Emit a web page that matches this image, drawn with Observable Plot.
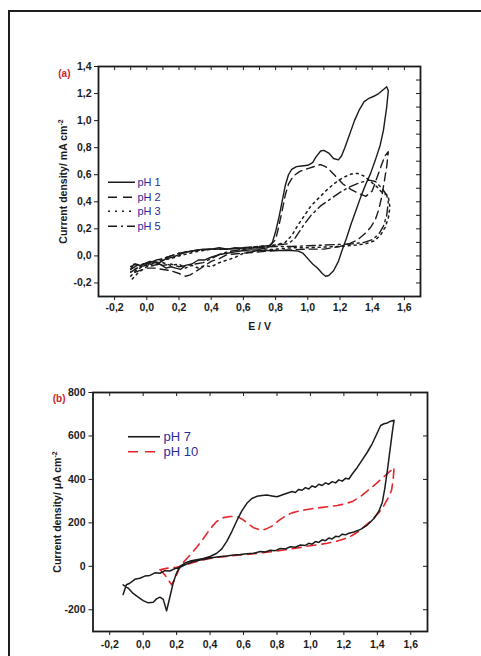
<!DOCTYPE html>
<html><head><meta charset="utf-8">
<script src="https://cdn.jsdelivr.net/npm/d3@7"></script>
<script src="https://cdn.jsdelivr.net/npm/@observablehq/plot@0.6"></script>
<style>
html,body{margin:0;padding:0;background:#fff;}
#wrap{position:relative;width:481px;height:656px;overflow:hidden;background:#fff;}
#frame{position:absolute;left:8px;top:10px;width:520px;height:720px;border-left:2px solid #1e1e1e;border-top:2px solid #1e1e1e;pointer-events:none;z-index:5;}
.pl{position:absolute;left:0;}
.leg{position:absolute;font-family:"Liberation Sans",Arial,sans-serif;color:#2c2c9c;white-space:nowrap;}
.leg .row{position:absolute;left:0;display:flex;align-items:center;}
.leg svg{display:block;overflow:visible}
</style></head><body>
<div id="wrap"><div id="frame"></div>
<div id="pa" class="pl" style="top:0"></div>
<div id="pb" class="pl" style="top:345px"></div>
<div id="legA" class="leg"></div><div id="legB" class="leg"></div></div>
<script>
// ---------- Panel (a) data: [E (V), j (mA cm-2)] ----------
const ph1 = [[-0.10,-0.08],[-0.07,-0.06],[-0.04,-0.07],[0.00,-0.05],[0.04,-0.04],[0.08,-0.05],[0.12,-0.02],[0.16,-0.01],[0.20,0.01],[0.25,0.03],[0.30,0.04],[0.35,0.05],[0.40,0.05],[0.45,0.06],[0.50,0.05],[0.55,0.06],[0.60,0.05],[0.65,0.05],[0.70,0.05],[0.75,0.06],[0.78,0.10],[0.80,0.18],[0.82,0.28],[0.84,0.40],[0.86,0.52],[0.88,0.60],[0.90,0.64],[0.93,0.66],[0.96,0.665],[1.00,0.67],[1.03,0.69],[1.05,0.73],[1.08,0.775],[1.10,0.78],[1.13,0.76],[1.16,0.72],[1.19,0.71],[1.21,0.74],[1.23,0.80],[1.26,0.90],[1.29,1.00],[1.32,1.08],[1.35,1.14],[1.38,1.165],[1.41,1.18],[1.44,1.20],[1.47,1.23],[1.49,1.25],[1.50,1.22],
[1.49,1.10],[1.47,0.93],[1.45,0.82],[1.42,0.71],[1.39,0.61],[1.36,0.53],[1.33,0.44],[1.30,0.34],[1.27,0.24],[1.24,0.13],[1.21,0.03],[1.19,-0.04],[1.16,-0.11],[1.13,-0.145],[1.11,-0.15],[1.09,-0.13],[1.06,-0.09],[1.03,-0.06],[1.00,-0.02],[0.97,0.02],[0.94,0.035],[0.90,0.04],[0.85,0.04],[0.80,0.04],[0.75,0.04],[0.70,0.04],[0.65,0.035],[0.60,0.04],[0.55,0.03],[0.50,0.02],[0.45,0.01],[0.40,-0.01],[0.36,-0.03],[0.32,-0.03],[0.28,-0.06],[0.24,-0.07],[0.21,-0.10],[0.18,-0.09],[0.15,-0.08],[0.12,-0.09],[0.08,-0.06],[0.04,-0.07],[0.00,-0.05],[-0.04,-0.07],[-0.08,-0.06],[-0.10,-0.10]];
const ph2 = [[-0.10,-0.12],[-0.06,-0.09],[-0.02,-0.06],[0.02,-0.05],[0.06,-0.03],[0.10,-0.02],[0.15,0.00],[0.20,0.02],[0.30,0.04],[0.40,0.05],[0.50,0.05],[0.60,0.06],[0.70,0.06],[0.76,0.07],[0.80,0.12],[0.82,0.22],[0.84,0.33],[0.86,0.45],[0.88,0.53],[0.91,0.59],[0.95,0.625],[1.00,0.645],[1.05,0.665],[1.08,0.675],[1.11,0.66],[1.14,0.63],[1.18,0.58],[1.22,0.53],[1.27,0.49],[1.32,0.46],[1.36,0.44],[1.40,0.48],[1.43,0.58],[1.46,0.68],[1.48,0.74],[1.50,0.77],
[1.49,0.66],[1.475,0.55],[1.46,0.44],[1.44,0.34],[1.42,0.27],[1.39,0.21],[1.35,0.16],[1.31,0.12],[1.26,0.09],[1.20,0.07],[1.10,0.05],[1.00,0.05],[0.90,0.045],[0.80,0.04],[0.70,0.03],[0.60,0.02],[0.50,0.01],[0.45,-0.02],[0.40,-0.04],[0.35,-0.08],[0.31,-0.11],[0.27,-0.14],[0.24,-0.15],[0.20,-0.13],[0.15,-0.11],[0.10,-0.10],[0.05,-0.09],[0.00,-0.09],[-0.05,-0.11],[-0.09,-0.13]];
const ph3 = [[-0.10,-0.15],[-0.07,-0.11],[-0.03,-0.08],[0.02,-0.05],[0.06,-0.06],[0.10,-0.03],[0.15,-0.02],[0.20,0.00],[0.30,0.03],[0.40,0.05],[0.50,0.05],[0.60,0.06],[0.70,0.07],[0.80,0.08],[0.86,0.10],[0.90,0.15],[0.94,0.23],[0.98,0.30],[1.02,0.37],[1.07,0.43],[1.12,0.49],[1.17,0.54],[1.22,0.58],[1.27,0.605],[1.31,0.61],[1.35,0.59],[1.39,0.55],[1.43,0.51],[1.46,0.47],[1.49,0.45],[1.50,0.44],
[1.51,0.36],[1.50,0.28],[1.48,0.21],[1.45,0.15],[1.41,0.11],[1.36,0.09],[1.30,0.08],[1.20,0.07],[1.10,0.065],[1.00,0.06],[0.90,0.06],[0.80,0.05],[0.70,0.04],[0.60,0.02],[0.55,-0.01],[0.50,-0.03],[0.45,-0.05],[0.40,-0.08],[0.36,-0.07],[0.32,-0.09],[0.28,-0.07],[0.24,-0.09],[0.20,-0.06],[0.15,-0.07],[0.10,-0.05],[0.05,-0.07],[0.00,-0.08],[-0.05,-0.12],[-0.09,-0.17]];
const ph5 = [[-0.10,-0.10],[-0.06,-0.07],[-0.02,-0.06],[0.02,-0.04],[0.06,-0.05],[0.10,-0.02],[0.15,0.00],[0.20,0.02],[0.30,0.04],[0.40,0.05],[0.50,0.05],[0.60,0.06],[0.70,0.07],[0.80,0.08],[0.88,0.09],[0.92,0.13],[0.97,0.22],[1.02,0.30],[1.08,0.37],[1.14,0.42],[1.20,0.47],[1.26,0.51],[1.32,0.54],[1.38,0.56],[1.42,0.55],[1.46,0.50],[1.49,0.45],[1.50,0.40],
[1.49,0.30],[1.47,0.22],[1.44,0.16],[1.40,0.12],[1.35,0.10],[1.28,0.09],[1.20,0.085],[1.10,0.08],[1.00,0.075],[0.90,0.07],[0.80,0.07],[0.70,0.065],[0.60,0.05],[0.50,0.03],[0.45,0.01],[0.40,-0.02],[0.35,-0.05],[0.30,-0.06],[0.25,-0.07],[0.20,-0.08],[0.15,-0.06],[0.10,-0.07],[0.05,-0.05],[0.00,-0.07],[-0.05,-0.08],[-0.10,-0.12]];

// ---------- Panel (b) data: [E (V), j (µA cm-2)] ----------
const ph7 = [[-0.12,-85],[-0.09,-100],[-0.06,-125],[-0.03,-142],[0.00,-158],[0.03,-168],[0.06,-165],[0.08,-150],[0.10,-142],[0.12,-152],[0.14,-205],[0.16,-140],[0.18,-75],[0.20,-30],[0.22,0],[0.25,15],[0.28,24],[0.32,30],[0.36,36],[0.40,45],[0.44,60],[0.47,80],[0.50,115],[0.53,160],[0.56,210],[0.59,255],[0.62,290],[0.65,312],[0.68,322],[0.71,326],[0.74,328],[0.77,324],[0.80,320],[0.83,328],[0.86,336],[0.89,344],[0.91,340],[0.93,354],[0.95,350],[0.97,362],[0.99,356],[1.01,370],[1.03,364],[1.05,378],[1.07,372],[1.09,384],[1.11,378],[1.13,390],[1.15,384],[1.17,398],[1.19,392],[1.21,405],[1.23,402],[1.25,425],[1.28,455],[1.31,490],[1.34,525],[1.37,565],[1.40,615],[1.42,648],[1.44,656],[1.46,660],[1.48,668],[1.50,672],
[1.49,620],[1.475,530],[1.46,440],[1.445,360],[1.43,295],[1.41,255],[1.38,220],[1.34,190],[1.30,170],[1.26,158],[1.23,152],[1.21,145],[1.19,148],[1.17,136],[1.15,138],[1.13,126],[1.11,130],[1.09,118],[1.07,122],[1.05,110],[1.03,114],[1.01,102],[0.99,106],[0.97,96],[0.94,98],[0.91,88],[0.88,90],[0.85,80],[0.82,82],[0.79,72],[0.76,74],[0.73,66],[0.70,68],[0.66,60],[0.62,58],[0.58,54],[0.54,52],[0.50,48],[0.45,44],[0.40,38],[0.35,30],[0.30,22],[0.26,10],[0.22,-5],[0.19,-10],[0.16,-22],[0.13,-20],[0.10,-32],[0.07,-30],[0.04,-42],[0.01,-45],[-0.02,-55],[-0.05,-60],[-0.08,-78],[-0.10,-85],[-0.12,-130]];
const ph10 = [[0.10,-15],[0.13,-40],[0.17,-85],[0.19,-60],[0.21,-20],[0.23,10],[0.26,35],[0.29,60],[0.32,88],[0.36,128],[0.40,172],[0.44,207],[0.48,224],[0.52,229],[0.56,230],[0.59,218],[0.62,200],[0.66,178],[0.70,167],[0.73,170],[0.77,185],[0.81,210],[0.85,232],[0.89,246],[0.93,254],[0.97,260],[1.01,265],[1.06,270],[1.11,275],[1.16,280],[1.21,288],[1.25,298],[1.29,316],[1.33,340],[1.37,365],[1.41,392],[1.45,420],[1.48,440],[1.50,455],
[1.495,400],[1.485,350],[1.465,315],[1.44,280],[1.41,248],[1.37,215],[1.33,188],[1.29,162],[1.25,142],[1.20,126],[1.15,114],[1.10,106],[1.05,100],[1.00,95],[0.95,88],[0.90,82],[0.85,76],[0.80,70],[0.75,66],[0.70,61],[0.65,57],[0.60,53],[0.55,50],[0.50,46],[0.45,42],[0.40,36],[0.35,28],[0.30,18],[0.25,6],[0.20,-4],[0.15,-8],[0.11,-14]];

// ---------- ticks & labels ----------
const xTicks = [-0.2,0,0.2,0.4,0.6,0.8,1.0,1.2,1.4,1.6];
const xMinorA = [-0.2,-0.1,0,0.1,0.2,0.3,0.4,0.5,0.6,0.7,0.8,0.9,1.0,1.1,1.2,1.3,1.4,1.5,1.6];
const yTicksA = [-0.2,0,0.2,0.4,0.6,0.8,1.0,1.2,1.4];
const yMinorA = [-0.2,-0.1,0,0.1,0.2,0.3,0.4,0.5,0.6,0.7,0.8,0.9,1.0,1.1,1.2,1.3];
const yTicksB = [-200,0,200,400,600,800];
const titleA = "Current density/ mA cm";
const titleB = "Current density/ \u03bcA cm";
const xTitleA = "E / V";
const seriesA = ["pH 1","pH 2","pH 3","pH 5"];
const seriesB = ["pH 7","pH 10"];

const ink = "#1b1b1b", red = "#e5262b", tagRed = "#d0202a";
const font = "'Liberation Sans', Arial, Helvetica, sans-serif";
const fmt = d => d.toFixed(1).replace(".", ",");
const baseStyle = {fontFamily: font, fontSize: "10.5px", fontWeight: "bold", color: ink, background: "transparent", overflow: "visible"};
const X = d => d[0], Y = d => d[1];

function superscript(svg, title) {
  d3.select(svg).selectAll("text").filter(function(){ return this.textContent === title; })
    .each(function(){
      const t = d3.select(this);
      t.text(null);
      t.append("tspan").text(title);
      t.append("tspan").attr("dy", "-0.5em").attr("font-size", "7px").text("-2");
    });
}

// ---------- Panel (a) ----------
const innerWA = 322, innerHA = 230;
const svgA = Plot.plot({
  width: 481, height: 345,
  marginLeft: 98, marginRight: 61, marginTop: 66, marginBottom: 49,
  style: baseStyle,
  x: {domain: [-0.3, 1.7], ticks: xTicks, tickSize: 4, tickPadding: 3, tickFormat: fmt, label: null},
  y: {domain: [-0.3, 1.4], ticks: yTicksA, tickSize: 4, tickPadding: 3, tickFormat: fmt, label: null},
  marks: [
    Plot.ruleX(xMinorA, {x: d => d, insetBottom: innerHA - 4, stroke: ink}),
    Plot.ruleY(yMinorA, {y: d => d, insetLeft: innerWA - 4, stroke: ink}),
    Plot.line(ph1, {x: X, y: Y, stroke: ink, strokeWidth: 1.4, strokeLinejoin: "round"}),
    Plot.line(ph2, {x: X, y: Y, stroke: ink, strokeWidth: 1.4, strokeDasharray: "8,5"}),
    Plot.line(ph3, {x: X, y: Y, stroke: ink, strokeWidth: 1.5, strokeDasharray: "2,4"}),
    Plot.line(ph5, {x: X, y: Y, stroke: ink, strokeWidth: 1.4, strokeDasharray: "9,4,2,4"}),
    Plot.frame({stroke: ink, strokeWidth: 1.8}),
    Plot.text([titleA], {text: d => d, frameAnchor: "left", textAnchor: "middle", rotate: -90, dx: -35, fontSize: 10.5, fontWeight: "bold", fill: ink}),
    Plot.text([xTitleA], {text: d => d, frameAnchor: "bottom", textAnchor: "middle", dy: 33, fontSize: 10.5, fontWeight: "bold", fill: ink}),
    Plot.text(["(a)"], {text: d => d, frameAnchor: "top-left", dx: -28, dy: 3, textAnchor: "end", fontSize: 10, fontWeight: "bold", fill: tagRed})
  ]
});
superscript(svgA, titleA);
document.getElementById("pa").appendChild(svgA);

// ---------- Panel (b) ----------
const innerWB = 334.5, innerHB = 239;
const svgB = Plot.plot({
  width: 481, height: 311,
  marginLeft: 92.5, marginRight: 54, marginTop: 47, marginBottom: 25,
  style: baseStyle,
  x: {domain: [-0.3, 1.7], ticks: xTicks, tickSize: 4, tickPadding: 5, tickFormat: fmt, label: null},
  y: {domain: [-300, 800], ticks: yTicksB, tickSize: 4, tickPadding: 3.5, tickFormat: d => String(d), label: null},
  marks: [
    Plot.ruleX(xTicks, {x: d => d, insetBottom: innerHB - 4, stroke: ink}),
    Plot.ruleY(yTicksB, {y: d => d, insetLeft: innerWB - 4, stroke: ink}),
    Plot.line(ph10, {x: X, y: Y, stroke: red, strokeWidth: 1.6, strokeDasharray: "9,6"}),
    Plot.line(ph7, {x: X, y: Y, stroke: ink, strokeWidth: 1.5, strokeLinejoin: "round"}),
    Plot.frame({stroke: ink, strokeWidth: 1.8}),
    Plot.text([titleB], {text: d => d, frameAnchor: "left", textAnchor: "middle", rotate: -90, dx: -35.5, fontSize: 10.5, fontWeight: "bold", fill: ink}),
    Plot.text(["(b)"], {text: d => d, frameAnchor: "top-left", dx: -27.5, dy: 2, textAnchor: "end", fontSize: 10, fontWeight: "bold", fill: tagRed})
  ]
});
superscript(svgB, titleB);
document.getElementById("pb").appendChild(svgB);

// ---------- Legends ----------
function legend(id, left, top, labels, styles, lineW, fs, gap, rowH) {
  const el = document.getElementById(id);
  el.style.left = left + "px"; el.style.top = top + "px";
  labels.forEach((lab, i) => {
    const row = document.createElement("div");
    row.className = "row";
    row.style.top = (i * rowH - rowH / 2) + "px";
    row.style.height = rowH + "px";
    const s = styles[i];
    row.innerHTML = `<svg width="${lineW}" height="${rowH}"><line x1="0" x2="${lineW}" y1="${rowH/2}" y2="${rowH/2}" stroke="${s.c}" stroke-width="${s.w}" ${s.d ? `stroke-dasharray="${s.d}"` : ""}/></svg><span style="font-size:${fs}px;margin-left:${gap}px;line-height:${rowH}px">${lab}</span>`;
    el.appendChild(row);
  });
}
legend("legA", 108, 182.5, seriesA,
  [{c: ink, w: 1.5}, {c: ink, w: 1.5, d: "9,6"}, {c: ink, w: 1.6, d: "2,5"}, {c: ink, w: 1.5, d: "9,4,2,4"}],
  27, 11, 2.5, 14.5);
legend("legB", 128, 436.5, seriesB,
  [{c: ink, w: 1.6}, {c: red, w: 1.7, d: "10,7"}],
  32, 13, 3.5, 15.5);
</script>
</body></html>
